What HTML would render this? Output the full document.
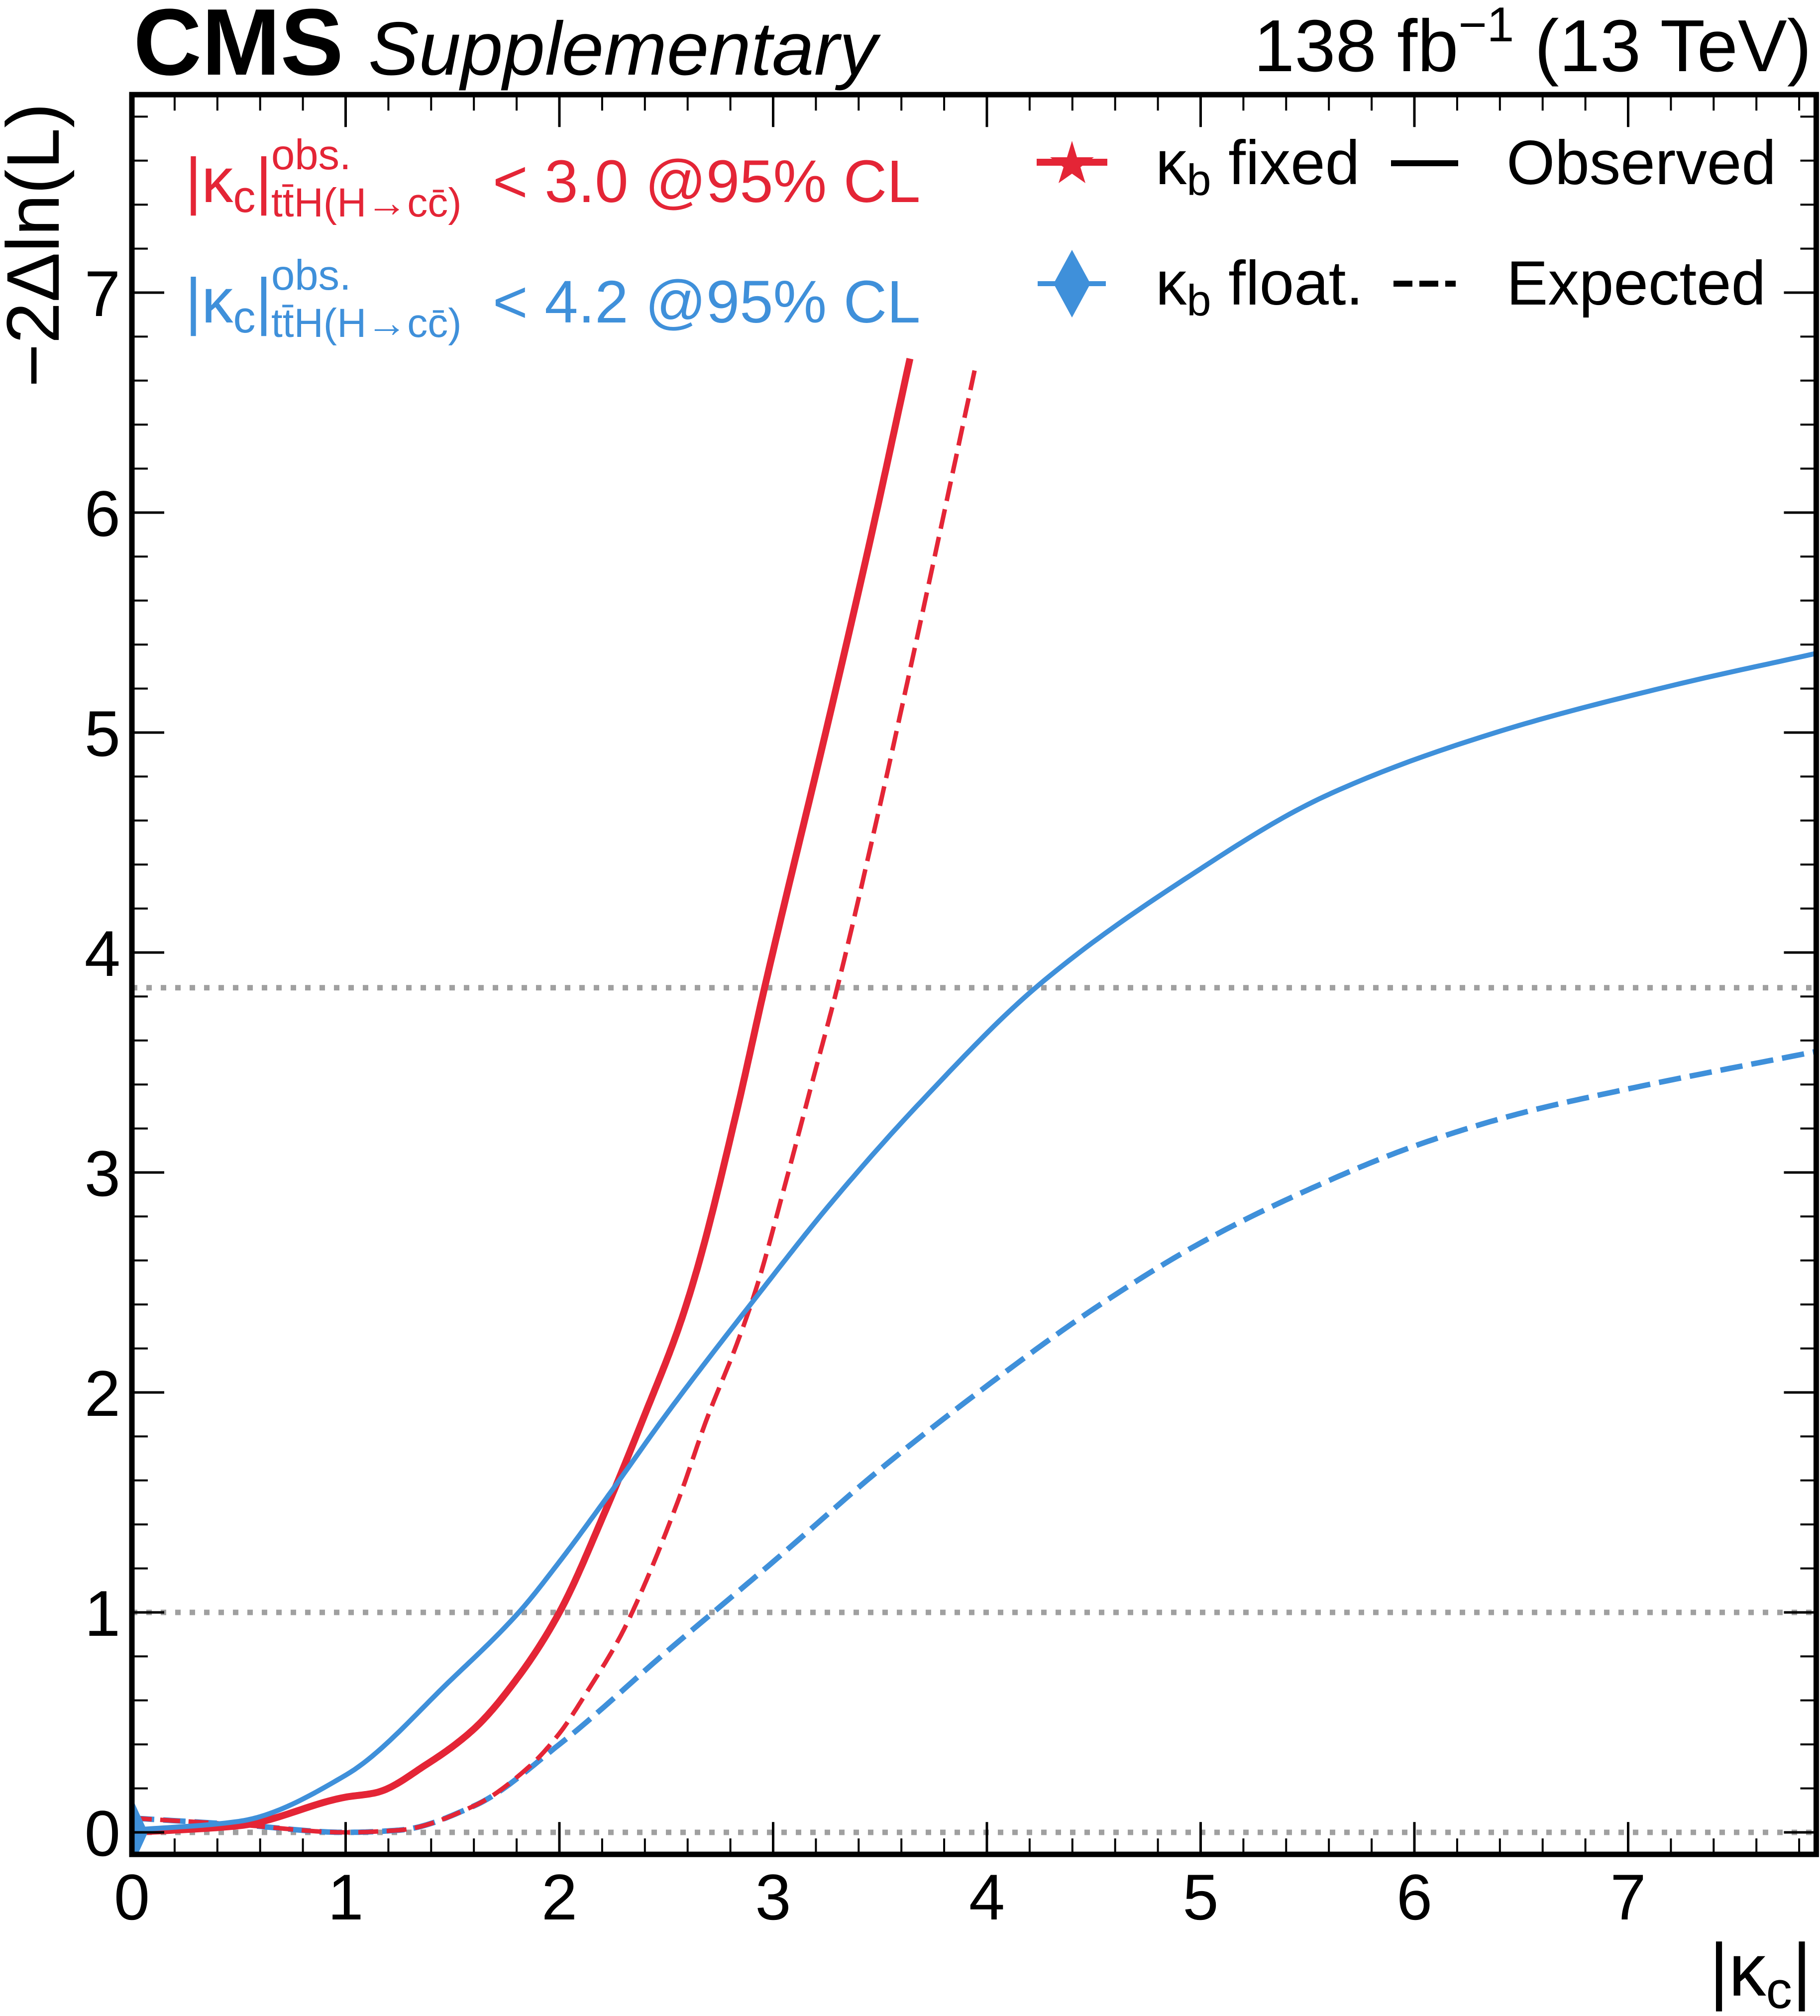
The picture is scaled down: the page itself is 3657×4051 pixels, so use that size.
<!DOCTYPE html>
<html><head><meta charset="utf-8"><style>
html,body{margin:0;padding:0;background:#fff;}
svg{display:block;font-family:"Liberation Sans",sans-serif;}
</style></head><body>
<svg id="chart" width="3657" height="4051" viewBox="0 0 3657 4051" xmlns="http://www.w3.org/2000/svg">
<defs><clipPath id="plotclip"><rect x="265" y="190" width="3381" height="3536"/></clipPath></defs>
<text x="268" y="150" font-size="190" font-weight="bold">CMS</text>
<text x="740" y="150" font-size="152" font-style="italic">Supplementary</text>
<text x="3640" y="143" font-size="148" text-anchor="end">138 fb<tspan dy="-60" font-size="98">−1</tspan><tspan dy="60"> (13 TeV)</tspan></text>
<g id="gridlines" clip-path="url(#plotclip)"></g>
<g id="curves" clip-path="url(#plotclip)"></g>
<g id="axes"></g>
<text transform="translate(118,207) rotate(-90)" font-size="150" text-anchor="end">−2Δln(L)</text>
<text x="3640" y="4010" font-size="150" text-anchor="end">|κ<tspan font-size="105" dy="25">c</tspan><tspan dy="-25">|</tspan></text>
<g fill="#e42536">
<text x="372" y="406" font-size="127">|κ<tspan font-size="90" dy="20">c</tspan><tspan dy="-20">|</tspan></text>
<text x="545" y="340" font-size="85">obs.</text>
<text x="545" y="435" font-size="82">tt̄H(H→cc̄)</text>
<text x="990" y="406" font-size="121">&lt; 3.0 @95% CL</text>
</g>
<g fill="#3f90da">
<text x="372" y="648" font-size="127">|κ<tspan font-size="90" dy="20">c</tspan><tspan dy="-20">|</tspan></text>
<text x="545" y="582" font-size="85">obs.</text>
<text x="545" y="677" font-size="82">tt̄H(H→cc̄)</text>
<text x="990" y="648" font-size="121">&lt; 4.2 @95% CL</text>
</g>
<g>
<g>
<line x1="2083" y1="326" x2="2225" y2="326" stroke="#e42536" stroke-width="14"/>
<polygon points="2154,283 2164,316 2198,316 2171,336 2181,368 2154,349 2127,368 2137,336 2110,316 2144,316" fill="#e42536"/>
<text x="2322" y="370" font-size="125">κ<tspan font-size="88" dy="22">b</tspan><tspan dy="-22"> fixed</tspan></text>
</g>
<g>
<line x1="2085" y1="570" x2="2222" y2="570" stroke="#3f90da" stroke-width="10"/>
<polygon points="2154,502 2191,570 2154,638 2117,570" fill="#3f90da"/>
<text x="2322" y="612" font-size="125">κ<tspan font-size="88" dy="22">b</tspan><tspan dy="-22"> float.</tspan></text>
</g>
<g>
<line x1="2795" y1="328" x2="2930" y2="328" stroke="#000" stroke-width="12"/>
<text x="3027" y="370" font-size="125">Observed</text>
</g>
<g>
<line x1="2800" y1="570" x2="2925" y2="570" stroke="#000" stroke-width="12" stroke-dasharray="38,14"/>
<text x="3027" y="612" font-size="125">Expected</text>
</g>
</g>
</svg>
<script>
// chart data
const xTicks = [0,1,2,3,4,5,6,7];
const yTicks = [0,1,2,3,4,5,6,7];
const refLevels = [0, 1, 3.84];
const redObsX = [0,0.5,1.0,1.14,1.38,1.6,1.81,2.0,2.21,2.4,2.56,2.65,2.83,2.96,3.27,3.46,3.64];
const redObsY = [0,0.03,0.16,0.18,0.31,0.47,0.71,1.0,1.45,1.90,2.30,2.58,3.28,3.84,5.10,5.90,6.7];
const redExpX = [0,0.5,1.0,1.25,1.6,1.86,2.0,2.13,2.29,2.4,2.56,2.69,2.83,2.92,3.06,3.18,3.30,3.50,3.72,3.95];
const redExpY = [0.065,0.035,0,0.01,0.12,0.30,0.45,0.64,0.90,1.13,1.52,1.88,2.22,2.47,2.96,3.40,3.84,4.67,5.64,6.68];
const blueObsX = [0,0.5,1.0,1.5,1.81,2.0,2.25,2.5,2.91,3.27,3.69,4.24,4.92,5.58,6.38,7.19,7.88];
const blueObsY = [0.01,0.05,0.26,0.70,1.0,1.23,1.56,1.90,2.42,2.86,3.32,3.85,4.33,4.71,5.00,5.21,5.36];
const blueExpX = [0,0.5,1.0,1.25,1.6,2.0,2.5,3.0,3.5,4.0,4.5,5.0,5.5,6.0,6.5,7.0,7.88];
const blueExpY = [0.065,0.035,0,0.01,0.12,0.40,0.82,1.23,1.65,2.03,2.38,2.68,2.92,3.12,3.27,3.38,3.55];

const NS = "http://www.w3.org/2000/svg";
const X0 = 265, XUNIT = 429.5, XMAX = 7.88;
const Y0 = 3682, YUNIT = 442, YMIN = -0.1, YMAX = 7.9;
function sx(v){ return X0 + v*XUNIT; }
function sy(v){ return Y0 - v*YUNIT; }
const plotRight = sx(XMAX), plotTop = sy(YMAX), plotBottom = sy(YMIN);

function mk(tag, attrs, parent){
  const el = document.createElementNS(NS, tag);
  for (const k in attrs) el.setAttribute(k, attrs[k]);
  parent.appendChild(el);
  return el;
}
const gridG = document.getElementById('gridlines');
const curvesG = document.getElementById('curves');
const axesG = document.getElementById('axes');

refLevels.forEach(function(v){
  const l = mk('line', {x1:X0, x2:plotRight, y1:sy(v), y2:sy(v), stroke:'#a0a0a0', 'stroke-width':11, 'stroke-dasharray':'11,18'}, gridG);
  
  
});

// monotone cubic (Fritsch-Carlson) interpolation, sampled densely
function smoothPath(xs, ys){
  const n = xs.length;
  const d = [], m = [];
  for (let i = 0; i < n - 1; i++) d.push((ys[i+1]-ys[i])/(xs[i+1]-xs[i]));
  m.push(d[0]);
  for (let i = 1; i < n - 1; i++){
    if (d[i-1]*d[i] <= 0) m.push(0);
    else {
      const h0 = xs[i]-xs[i-1], h1 = xs[i+1]-xs[i];
      const w1 = 2*h1 + h0, w2 = h1 + 2*h0;
      m.push((w1+w2)/(w1/d[i-1] + w2/d[i]));
    }
  }
  m.push(d[n-2]);
  let path = 'M' + sx(xs[0]).toFixed(1) + ',' + sy(ys[0]).toFixed(1);
  for (let i = 0; i < n - 1; i++){
    const h = xs[i+1]-xs[i];
    const steps = 24;
    for (let k = 1; k <= steps; k++){
      const t = k/steps;
      const h00 = 2*t*t*t - 3*t*t + 1, h10 = t*t*t - 2*t*t + t, h01 = -2*t*t*t + 3*t*t, h11 = t*t*t - t*t;
      const yv = h00*ys[i] + h10*h*m[i] + h01*ys[i+1] + h11*h*m[i+1];
      const xv = xs[i] + t*h;
      path += ' L' + sx(xv).toFixed(1) + ',' + sy(yv).toFixed(1);
    }
  }
  return path;
}
let c;
c = mk('path', {d:smoothPath(blueExpX, blueExpY), fill:'none', stroke:'#3f90da', 'stroke-width':11, 'stroke-dasharray':'45,18'}, curvesG);


c = mk('path', {d:smoothPath(redExpX, redExpY), fill:'none', stroke:'#e42536', 'stroke-width':9, 'stroke-dasharray':'40,17'}, curvesG);


c = mk('path', {d:smoothPath(redObsX, redObsY), fill:'none', stroke:'#e42536', 'stroke-width':14}, curvesG);


c = mk('path', {d:smoothPath(blueObsX, blueObsY), fill:'none', stroke:'#3f90da', 'stroke-width':10}, curvesG);


c = mk('polygon', {points: sx(0)+','+(sy(0)-70)+' '+(sx(0)+32)+','+sy(0)+' '+sx(0)+','+(sy(0)+70)+' '+(sx(0)-32)+','+sy(0), fill:'#3f90da'}, curvesG);



for (let i = 0; i * 0.2 <= XMAX + 1e-6; i++){
  const vv = i*0.2;
  const major = (i%5===0);
  const len = major?65:32;
  mk('line', {x1:sx(vv), x2:sx(vv), y1:plotBottom, y2:plotBottom-len, stroke:'#000', 'stroke-width':major?5:4}, axesG);
  mk('line', {x1:sx(vv), x2:sx(vv), y1:plotTop, y2:plotTop+len, stroke:'#000', 'stroke-width':major?5:4}, axesG);
}
for (let i = 0; i * 0.2 <= YMAX + 1e-6; i++){
  const vv = i*0.2;
  const major = (i%5===0);
  const len = major?65:32;
  mk('line', {x1:X0, x2:X0+len, y1:sy(vv), y2:sy(vv), stroke:'#000', 'stroke-width':major?5:4}, axesG);
  mk('line', {x1:plotRight, x2:plotRight-len, y1:sy(vv), y2:sy(vv), stroke:'#000', 'stroke-width':major?5:4}, axesG);
}
const frame = mk('rect', {x:X0, y:plotTop, width:plotRight-X0, height:plotBottom-plotTop, fill:'none', stroke:'#000', 'stroke-width':11}, axesG);


xTicks.forEach(function(v){
  const t = mk('text', {x:sx(v), y:3857, 'font-size':130, 'text-anchor':'middle'}, axesG);
  t.textContent = String(v);
  
  
});
yTicks.forEach(function(v){
  const t = mk('text', {x:242, y:sy(v)+47, 'font-size':130, 'text-anchor':'end'}, axesG);
  t.textContent = String(v);
  
  
});
</script>
</body></html>
